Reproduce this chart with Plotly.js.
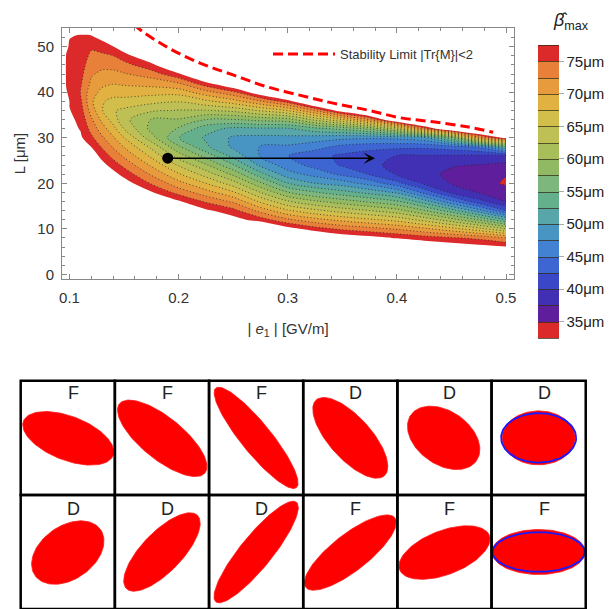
<!DOCTYPE html>
<html>
<head>
<meta charset="utf-8">
<script src="https://cdn.plot.ly/plotly-3.0.1.min.js"></script>
<style>
html, body { margin: 0; padding: 0; background: #fff; }
#chart { width: 613px; height: 609px; }
</style>
</head>
<body>
<div id="chart"></div>
<script>
// ================= data =================
// grid columns: |e1| [GV/m]
const fieldE = [0.09, 0.097, 0.1, 0.105, 0.11, 0.12, 0.13, 0.14, 0.15, 0.175, 0.2, 0.225,
                0.25, 0.275, 0.3, 0.325, 0.35, 0.375, 0.4, 0.425, 0.45, 0.475, 0.5];
// grid rows: L [um]
const lengthL = [-2, 0, 2, 4, 6, 8, 10, 12, 14, 16, 18, 20, 22, 24, 26, 28, 30, 32, 34, 36, 38, 40, 42, 44, 46, 48, 50, 52, 54, 56];
// beta_max [um] in each column, starting at row betaFirstL; rows not listed are above the plotted range
const betaFirstL = [null, 40, 36, 32, 30, 26, 24, 22, 20, 18, 16, 14, 12, 10, 10, 8, 8, 8, 6, 6, 6, 6, 6];
const betaValues = [
  [],
  [77.7, 77.3, 77.15, 77.15, 77.35, 77.95],
  [77.61, 77.33, 77.06, 76.78, 76.5, 76.75, 77.01, 77.26, 77.55],
  [77.86, 77.46, 77.04, 76.63, 76.21, 75.8, 76.13, 76.45, 76.78, 77.11, 77.43, 77.78],
  [77.95, 77.35, 76.76, 76.18, 75.59, 75.0, 75.4, 75.79, 76.19, 76.59, 76.98, 77.38, 77.78],
  [79.2, 77.41, 75.56, 74.13, 72.89, 71.4, 70.45, 71.0, 72.0, 72.8, 73.6, 74.4, 75.42, 77.08, 78.8],
  [78.4, 76.6, 74.64, 72.87, 71.09, 69.32, 67.6, 67.8, 69.35, 70.63, 71.92, 73.2, 74.49, 76.2, 78.2],
  [78.5, 76.3, 74.22, 72.28, 70.34, 68.4, 66.3, 65.25, 66.7, 68.6, 70.2, 71.8, 73.4, 75.0, 77.4, 79.5],
  [78.9, 76.59, 74.33, 72.11, 69.88, 67.5, 64.9, 63.25, 64.5, 66.6, 68.65, 70.46, 72.28, 74.09, 76.39, 79.2],
  [77.8, 74.74, 72.16, 69.57, 66.98, 64.4, 61.0, 59.2, 59.9, 62.9, 65.79, 68.42, 71.05, 73.68, 76.79, 80.3],
  [77.88, 74.06, 70.94, 67.81, 64.69, 61.3, 57.9, 55.1, 57.3, 59.8, 62.39, 65.17, 68.5, 72.5, 77.05, 81.6],
  [78.0, 74.64, 71.07, 67.5, 63.93, 60.36, 56.6, 53.0, 52.12, 53.5, 57.5, 62.36, 66.96, 71.56, 76.79, 83.9],
  [78.6, 75.83, 72.06, 67.85, 63.65, 59.44, 55.23, 51.74, 49.55, 49.6, 51.9, 57.4, 63.2, 68.94, 74.45, 81.2],
  [82.2, 76.25, 71.59, 67.05, 62.5, 57.95, 53.41, 49.4, 47.3, 47.35, 49.3, 52.06, 58.38, 65.3, 72.23, 79.76],
  [78.6, 72.96, 67.86, 62.76, 57.65, 52.55, 48.5, 46.2, 45.05, 47.02, 49.38, 52.12, 58.99, 67.64, 76.25, 84.6],
  [81.7, 76.11, 70.83, 65.62, 60.42, 55.21, 50.0, 46.6, 44.1, 43.4, 45.97, 48.82, 54.2, 63.2, 72.81, 83.2],
  [79.5, 74.47, 69.21, 63.95, 58.68, 53.42, 48.75, 44.4, 42.2, 42.0, 44.23, 48.21, 55.81, 67.44, 79.3],
  [78.5, 73.37, 67.93, 62.5, 57.07, 51.63, 46.5, 42.3, 40.9, 41.1, 43.46, 47.92, 58.3, 72.7, 84.7],
  [81.9, 77.27, 72.19, 66.57, 60.96, 55.34, 49.58, 43.25, 39.74, 39.0, 39.91, 43.18, 48.25, 63.54, 82.2],
  [80.4, 76.25, 70.51, 64.1, 57.69, 51.28, 44.17, 39.56, 38.46, 38.35, 39.73, 43.06, 49.38, 73.68, 88.96],
  [79.4, 75.4, 68.38, 61.03, 53.66, 45.71, 39.44, 37.35, 36.85, 37.77, 39.55, 43.93, 56.67, 82.7],
  [78.55, 74.36, 65.82, 57.27, 48.5, 40.83, 37.34, 36.3, 36.2, 37.4, 39.38, 45.5, 71.43, 86.6],
  [77.76, 72.5, 62.5, 52.5, 42.5, 37.5, 36.5, 34.6, 35.15, 36.88, 39.21, 53.13, 78.8]
];
const ABOVE_RANGE = 85;   // stands for "beta above the plotted range" (drawn white)

// contour levels and band colours (lowest band first)
const levelStart = 35, levelEnd = 75, levelStep = 2.5, plotMax = 77.5;
const bandColors = ['#dc2a2a', '#5f1e9b', '#4130b4', '#3a48c8', '#3e66d2', '#4382d2', '#4894c3',
                    '#58a5aa', '#64af8c', '#7db77d', '#91b964', '#a8be5a', '#bec055', '#d2be4b',
                    '#e1b241', '#e89b3c', '#e8803a', '#dc2a2a'];
const colorbarTicks = [35, 40, 45, 50, 55, 60, 65, 70, 75];

// stability limit |Tr{M}|<2 (dashed)
const stabilityE = [0.160, 0.1619, 0.1894, 0.2196, 0.2499, 0.281, 0.3204, 0.3415, 0.3727, 0.4029, 0.4332, 0.4643, 0.4882];
const stabilityL = [55.0, 54.3, 49.9, 46.4, 43.8, 41.2, 38.8, 37.6, 36.1, 34.4, 33.5, 32.4, 31.2];

// working point and arrow
const pointE = [0.19], pointL = [25.5];
const arrowEndE = 0.38;

// phase-space cells (2 rows x 6 columns)
const cellLabels = ['F', 'F', 'F', 'D', 'D', 'D', 'D', 'D', 'D', 'F', 'F', 'F'];
const ellipseA   = [1.02, 1.168, 1.36, 1.083, 0.85, 0.775, 0.85, 1.083, 1.36, 1.2, 1.02, 0.99];
const ellipseB   = [0.467, 0.446, 0.32, 0.446, 0.567, 0.573, 0.567, 0.425, 0.34, 0.39, 0.467, 0.478];
const ellipseAng = [-21, -39, -51, -48, -35, 0, 35, 46, 51, 38, 21, 0];
const ellipseDx  = [0.01, 0.006, 0, 0, -0.017, 0, 0, 0, 0, 0, 0, 0];
const ellipseDy  = [-0.01, -0.01, 0, 0, 0, 0, -0.012, 0, 0, -0.012, -0.012, 0];
const matchedCells = [5, 11];              // cells with the matched (blue) ellipse
const matchedA = [0.797, 0.977];
const matchedB = [0.525, 0.42];

// ================= build figure =================
const W = 613, H = 609;
const zCols = fieldE.map((e, i) => lengthL.map(L => {
  const s = betaFirstL[i];
  if (s === null) return null;
  const k = (L - s) / 2;
  return (k >= 0 && k < betaValues[i].length) ? betaValues[i][k] : null;
}));
const zPlot = zCols.map(col => col.map(v => v === null ? ABOVE_RANGE : v));

const fillColors = bandColors.concat(['#ffffff']);               // above plotMax -> white
const cs1 = fillColors.map((c, k) => [k / (fillColors.length - 1), c]);
const cbColors = ['#ffffff'].concat(bandColors, ['#ffffff']);
const cs3 = cbColors.map((c, k) => [k / (cbColors.length - 1), c]);
const dotColor = 'rgba(35,35,35,0.75)';

const traces = [];
// filled bands (no lines); region above the plotted range is white
traces.push({
  type: 'contour', x: fieldE, y: lengthL, z: zPlot, transpose: true,
  autocontour: false,
  contours: {start: levelStart, end: plotMax, size: levelStep, coloring: 'fill', showlines: false},
  colorscale: cs1, showscale: false,
  line: {width: 0, smoothing: 1},
  hoverinfo: 'skip', showlegend: false
});
// dotted contour lines at the band boundaries 35..75
traces.push({
  type: 'contour', x: fieldE, y: lengthL, z: zPlot, transpose: true,
  autocontour: false,
  contours: {start: levelStart, end: levelEnd, size: levelStep, coloring: 'lines', showlines: true},
  colorscale: [[0, dotColor], [1, dotColor]], showscale: false,
  line: {width: 1, dash: '1px,2.4px', smoothing: 1},
  hoverinfo: 'skip', showlegend: false
});
// colour key (bands 32.5 .. 77.5), data kept outside the visible axis range
const cbLen = 309.3;
traces.push({
  type: 'contour', x: [10, 11], y: [0, 1],
  z: [[levelStart - levelStep, plotMax], [levelStart - levelStep, plotMax]],
  autocontour: false,
  contours: {start: levelStart - levelStep, end: plotMax, size: levelStep, coloring: 'fill', showlines: true},
  colorscale: cs3, line: {color: 'rgba(50,45,20,0.75)', width: 1},
  hoverinfo: 'skip', showlegend: false, showscale: true,
  colorbar: {
    x: 538 / W, xanchor: 'left', xpad: 0, y: 1 - 191.5 / H, yanchor: 'middle', ypad: 0,
    len: cbLen / H, lenmode: 'fraction', thickness: 21, thicknessmode: 'pixels',
    outlinewidth: 0, borderwidth: 0,
    tickmode: 'array', tickvals: colorbarTicks, ticktext: colorbarTicks.map(v => v + 'μm'),
    ticks: 'outside', ticklen: 5, tickwidth: 1, tickcolor: '#aaa',
    tickfont: {size: 15, color: '#222'}
  }
});
// stability limit
traces.push({
  type: 'scatter', mode: 'lines', x: stabilityE, y: stabilityL,
  line: {color: '#ff0000', width: 3, dash: '10px,5px', shape: 'spline'},
  name: 'Stability Limit |Tr{M}|&lt;2', showlegend: true, hoverinfo: 'skip'
});
// working point
traces.push({
  type: 'scatter', mode: 'markers', x: pointE, y: pointL,
  marker: {color: '#000', size: 11}, showlegend: false, hoverinfo: 'skip'
});

// cells
const cellLeft = 20.7, cellW = 94.17, rowTop = [380.7, 495, 609];
const unit = cellW / 2;
const layout = {
  width: W, height: H, margin: {l: 0, r: 0, t: 0, b: 0},
  paper_bgcolor: '#fff', plot_bgcolor: '#fff', hovermode: false,
  font: {family: 'Liberation Sans, Arial, sans-serif', size: 15, color: '#333'},
  showlegend: true,
  legend: {x: 268 / W, xanchor: 'left', y: 1 - 39 / H, yanchor: 'top', bgcolor: 'rgba(255,255,255,0)',
           borderwidth: 0, font: {size: 13, color: '#333'}, itemwidth: 62},
  xaxis: {
    domain: [62 / W, 514 / W], range: [0.09313, 0.50733], anchor: 'y',
    showline: true, linecolor: '#888', linewidth: 1, mirror: 'allticks',
    ticks: 'inside', ticklen: 5, tickcolor: '#888', tick0: 0.1, dtick: 0.1,
    minor: {dtick: 0.02, tick0: 0.1, ticks: 'inside', ticklen: 3, tickcolor: '#888'},
    showgrid: false, zeroline: false, ticklabelstandoff: 5,
    tickfont: {size: 15, color: '#333'},
    title: {text: '| <i>e</i><sub>1</sub> | [GV/m]', font: {size: 15, color: '#333'}, standoff: 18}
  },
  yaxis: {
    domain: [1 - 279 / H, 1 - 28 / H], range: [-1.03, 54.11], anchor: 'x',
    showline: true, linecolor: '#888', linewidth: 1, mirror: 'allticks',
    ticks: 'inside', ticklen: 5, tickcolor: '#888', tick0: 0, dtick: 10,
    minor: {dtick: 2, tick0: 0, ticks: 'inside', ticklen: 3, tickcolor: '#888'},
    showgrid: false, zeroline: false, ticklabelstandoff: 4,
    tickfont: {size: 15, color: '#333'},
    title: {text: 'L [μm]', font: {size: 15, color: '#333'}, standoff: 8}
  },
  shapes: [],
  annotations: [
    {x: arrowEndE, y: pointL[0], ax: pointE[0], ay: pointL[0], xref: 'x', yref: 'y', axref: 'x', ayref: 'y',
     text: '', showarrow: true, arrowhead: 3, arrowsize: 1.5, arrowwidth: 1.3, arrowcolor: '#000', standoff: 0},
    {x: 571 / W, y: 1 - 22 / H, xref: 'paper', yref: 'paper', showarrow: false,
     text: '<i>β̂</i><sub>max</sub>', font: {size: 18, color: '#222'}, xanchor: 'center', yanchor: 'middle'}
  ]
};

function ellipsePts(cx, cy, a, b, angDeg) {
  const t = angDeg * Math.PI / 180, xs = [], ys = [];
  for (let i = 0; i <= 120; i++) {
    const p = 2 * Math.PI * i / 120, u = a * Math.cos(p), v = b * Math.sin(p);
    xs.push(cx + u * Math.cos(t) - v * Math.sin(t));
    ys.push(cy + u * Math.sin(t) + v * Math.cos(t));
  }
  return [xs, ys];
}

for (let r = 0; r < 2; r++) {
  for (let c = 0; c < 6; c++) {
    const idx = r * 6 + c, n = idx + 2;
    const x0 = cellLeft + c * cellW, x1 = x0 + cellW, y0 = rowTop[r], y1 = rowTop[r + 1];
    const half = (y1 - y0) / 2 / unit;
    layout['xaxis' + n] = {domain: [x0 / W, x1 / W], range: [-1, 1], visible: false, fixedrange: true, anchor: 'y' + n};
    layout['yaxis' + n] = {domain: [Math.max(0, 1 - y1 / H), 1 - y0 / H], range: [-half, half], visible: false, fixedrange: true, anchor: 'x' + n};
    const [ex, ey] = ellipsePts(ellipseDx[idx], ellipseDy[idx], ellipseA[idx], ellipseB[idx], ellipseAng[idx]);
    traces.push({type: 'scatter', mode: 'lines', x: ex, y: ey, fill: 'toself', fillcolor: '#ff0000',
                 line: {color: '#ff1a1a', width: 0.8}, xaxis: 'x' + n, yaxis: 'y' + n, showlegend: false, hoverinfo: 'skip'});
    const m = matchedCells.indexOf(idx);
    if (m >= 0) {
      const [bx, by] = ellipsePts(0, 0, matchedA[m], matchedB[m], 0);
      traces.push({type: 'scatter', mode: 'lines', x: bx, y: by, line: {color: '#1a1aff', width: 1.8},
                   xaxis: 'x' + n, yaxis: 'y' + n, showlegend: false, hoverinfo: 'skip'});
    }
    layout.shapes.push({type: 'rect', xref: 'x' + n + ' domain', yref: 'y' + n + ' domain', x0: 0, x1: 1, y0: 0, y1: 1,
                        line: {color: '#000', width: 2.5}, fillcolor: 'rgba(0,0,0,0)', layer: 'above'});
    layout.annotations.push({xref: 'x' + n, yref: 'y' + n, x: 5.5 / unit,
                             y: half - (r === 0 ? 12.3 : 14.3) / unit, text: cellLabels[idx], showarrow: false,
                             font: {size: 18, color: '#222'}, xanchor: 'center', yanchor: 'middle'});
  }
}

Plotly.newPlot('chart', traces, layout, {staticPlot: true, displayModeBar: false});
</script>
</body>
</html>
